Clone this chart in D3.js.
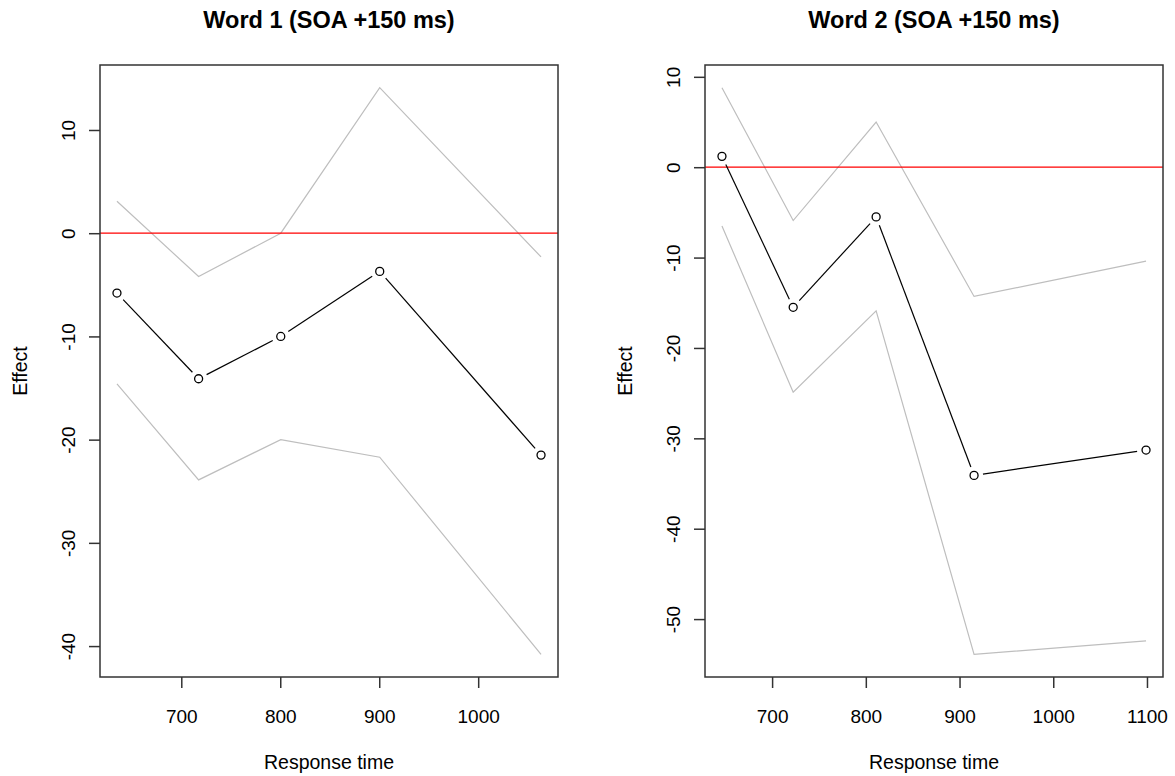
<!DOCTYPE html>
<html>
<head>
<meta charset="utf-8">
<script src="https://cdn.jsdelivr.net/npm/d3@7"></script>
<style>
  body { margin: 0; background: #fff; }
  svg { display: block; font-family: 'Liberation Sans', Arial, sans-serif; }
</style>
</head>
<body>
<div id="chart"></div>
<script>
// Word 1 panel
const rt1 = [635, 717.5, 800.5, 900.5, 1063.5];
const effect1 = [-5.8, -14.1, -10.0, -3.7, -21.5];
const upper1 = [3.1, -4.2, 0.0, 14.1, -2.3];
const lower1 = [-14.6, -23.9, -20.0, -21.7, -40.8];
const xTicks1 = [700, 800, 900, 1000];
const yTicks1 = [-40, -30, -20, -10, 0, 10];

// Word 2 panel
const rt2 = [646.5, 722.5, 811, 915.5, 1099];
const effect2 = [1.2, -15.5, -5.5, -34.1, -31.3];
const upper2 = [8.8, -5.9, 5.0, -14.3, -10.4];
const lower2 = [-6.5, -24.9, -15.9, -53.9, -52.4];
const xTicks2 = [700, 800, 900, 1000, 1100];
const yTicks2 = [-50, -40, -30, -20, -10, 0, 10];

const titles = ['Word 1 (SOA +150 ms)', 'Word 2 (SOA +150 ms)'];
const xLabel = 'Response time';
const yLabel = 'Effect';

const width = 1175, height = 776;
const plotTop = 65, plotBottom = 677;

const svg = d3.select('#chart')
  .append('svg')
  .attr('width', width)
  .attr('height', height);

// R style: extend range by 4% each side
const pad = ext => {
  let d = (ext[1] - ext[0]) * 0.04;
  return [ext[0] - d, ext[1] + d];
};

const fmt = d => String(d);

const drawPanel = (left, right, title, rt, effect, upper, lower, xTicks, yTicks) => {
  let x = d3.scaleLinear()
    .domain(pad(d3.extent(rt)))
    .range([left, right]);

  let y = d3.scaleLinear()
    .domain(pad(d3.extent(lower.concat(upper, effect))))
    .range([plotBottom, plotTop]);

  let g = svg.append('g');

  let line = d3.line()
    .x(d => x(d[0]))
    .y(d => y(d[1]));

  // confidence bounds
  [upper, lower].forEach(band => {
    g.append('path')
      .datum(d3.zip(rt, band))
      .attr('fill', 'none')
      .attr('stroke', '#bebebe')
      .attr('stroke-width', 1.2)
      .attr('d', line);
  });

  // zero line
  g.append('line')
    .attr('x1', x.range()[0])
    .attr('x2', x.range()[1])
    .attr('y1', y(0))
    .attr('y2', y(0))
    .attr('stroke', '#f00')
    .attr('stroke-width', 1.2);

  // type = "b": segments with gaps around points
  const gap = 9;
  let pts = d3.zip(rt, effect).map(d => [x(d[0]), y(d[1])]);
  d3.pairs(pts).forEach(([a, b]) => {
    let dx = b[0] - a[0], dy = b[1] - a[1];
    let len = Math.sqrt(dx * dx + dy * dy);
    if (len <= 2 * gap) return;
    let ux = dx / len, uy = dy / len;
    g.append('line')
      .attr('x1', a[0] + ux * gap)
      .attr('y1', a[1] + uy * gap)
      .attr('x2', b[0] - ux * gap)
      .attr('y2', b[1] - uy * gap)
      .attr('stroke', '#000')
      .attr('stroke-width', 1.2);
  });

  g.selectAll('circle')
    .data(d3.zip(rt, effect))
    .join('circle')
    .attr('cx', d => x(d[0]))
    .attr('cy', d => y(d[1]))
    .attr('r', 4)
    .attr('fill', 'none')
    .attr('stroke', '#000')
    .attr('stroke-width', 1.3);

  // axes
  let xAxis = g.append('g')
    .attr('transform', `translate(0,${plotBottom})`)
    .call(d3.axisBottom(x).tickValues(xTicks).tickFormat(fmt).tickSize(11).tickSizeOuter(0).tickPadding(0));
  xAxis.select('.domain').remove();
  xAxis.selectAll('line').attr('stroke', '#333').attr('stroke-width', 1.5);
  xAxis.selectAll('text')
    .attr('dy', null)
    .attr('y', 46)
    .attr('fill', '#000')
    .style('font-size', '19px');

  let yAxis = g.append('g')
    .attr('transform', `translate(${left},0)`)
    .call(d3.axisLeft(y).tickValues(yTicks).tickFormat(fmt).tickSize(11).tickSizeOuter(0));
  yAxis.select('.domain').remove();
  yAxis.selectAll('line').attr('stroke', '#333').attr('stroke-width', 1.5);
  yAxis.selectAll('text')
    .attr('x', null)
    .attr('dy', null)
    .attr('transform', 'translate(-25,0) rotate(-90)')
    .attr('text-anchor', 'middle')
    .attr('fill', '#000')
    .style('font-size', '19px');

  // box
  g.append('rect')
    .attr('x', left)
    .attr('y', plotTop)
    .attr('width', right - left)
    .attr('height', plotBottom - plotTop)
    .attr('fill', 'none')
    .attr('stroke', '#333')
    .attr('stroke-width', 1.5);

  g.append('text')
    .attr('x', (left + right) / 2)
    .attr('y', 28)
    .attr('text-anchor', 'middle')
    .style('font-weight', 'bold')
    .style('font-size', '23.5px')
    .text(title);

  g.append('text')
    .attr('x', (left + right) / 2)
    .attr('y', 769)
    .attr('text-anchor', 'middle')
    .style('font-size', '19.5px')
    .text(xLabel);

  g.append('text')
    .attr('transform', `translate(${left - 73},${(plotTop + plotBottom) / 2}) rotate(-90)`)
    .attr('text-anchor', 'middle')
    .style('font-size', '19.5px')
    .text(yLabel);
};

drawPanel(100, 558, titles[0], rt1, effect1, upper1, lower1, xTicks1, yTicks1);
drawPanel(705, 1163, titles[1], rt2, effect2, upper2, lower2, xTicks2, yTicks2);
</script>
</body>
</html>
